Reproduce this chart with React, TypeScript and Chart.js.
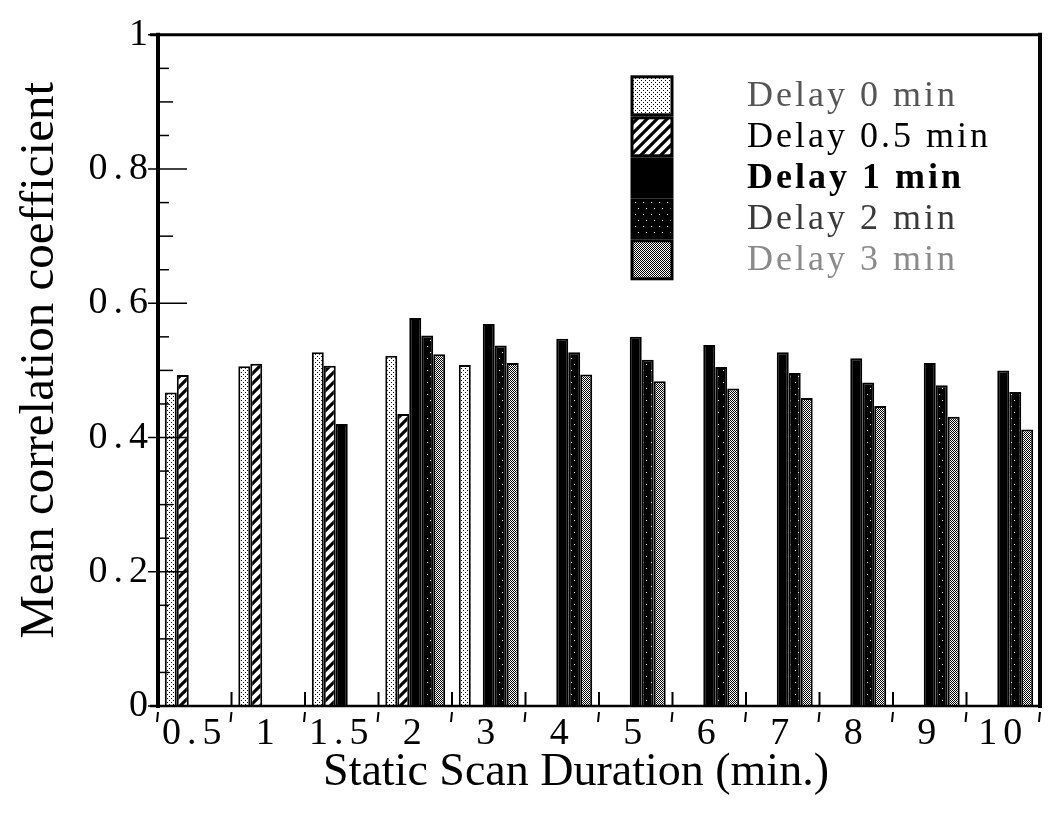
import React, { useEffect, useRef } from "react";
import { Chart, registerables } from "chart.js";

Chart.register(...registerables);

const categories = ["0.5", "1", "1.5", "2", "3", "4", "5", "6", "7", "8", "9", "10"];
const delay0 = [0.467, 0.506, 0.527, 0.522, 0.508, null, null, null, null, null, null, null];
const delay05 = [0.493, 0.51, 0.507, 0.435, null, null, null, null, null, null, null, null];
const delay1 = [null, null, 0.42, 0.578, 0.569, 0.547, 0.55, 0.538, 0.527, 0.518, 0.511, 0.5];
const delay2 = [null, null, null, 0.552, 0.537, 0.527, 0.516, 0.505, 0.496, 0.482, 0.478, 0.468];
const delay3 = [null, null, null, 0.524, 0.511, 0.494, 0.484, 0.473, 0.459, 0.447, 0.431, 0.412];
const seriesNames = ["Delay 0 min", "Delay 0.5 min", "Delay 1 min", "Delay 2 min", "Delay 3 min"];
const yTickLabels = ["0", "0.2", "0.4", "0.6", "0.8", "1"];
const xTitle = "Static Scan Duration (min.)";
const yTitle = "Mean correlation coefficient";

const FONT = "'Liberation Serif', 'Times New Roman', serif";

function makePattern(kind: string): CanvasPattern | string {
  const c = document.createElement("canvas");
  const g = c.getContext("2d")!;
  if (kind === "solid") return "#000";
  if (kind === "dots") {
    c.width = 4; c.height = 4;
    g.fillStyle = "#fff"; g.fillRect(0, 0, 4, 4);
    g.fillStyle = "#000";
    g.fillRect(1, 0, 1, 1);
    g.fillRect(3, 2, 1, 1);
  } else if (kind === "hatch") {
    c.width = 10; c.height = 10;
    g.fillStyle = "#fff"; g.fillRect(0, 0, 10, 10);
    g.strokeStyle = "#000"; g.lineWidth = 3.2;
    g.beginPath();
    g.moveTo(-2, 2); g.lineTo(2, -2);
    g.moveTo(0, 10); g.lineTo(10, 0);
    g.moveTo(8, 12); g.lineTo(12, 8);
    g.stroke();
  } else if (kind === "darkdots") {
    c.width = 8; c.height = 12;
    g.fillStyle = "#000"; g.fillRect(0, 0, 8, 12);
    g.fillStyle = "#fff";
    g.fillRect(3, 2, 1, 1);
    g.fillRect(6, 8, 1, 1);
  } else if (kind === "stipple") {
    c.width = 2; c.height = 2;
    g.fillStyle = "#fff"; g.fillRect(0, 0, 2, 2);
    g.fillStyle = "#000";
    g.fillRect(0, 0, 1, 1);
    g.fillRect(1, 1, 1, 1);
  }
  return g.createPattern(c, "repeat")!;
}

const patternKinds = ["dots", "hatch", "solid", "darkdots", "stipple"];
const legendColors = ["#555", "#000", "#000", "#3a3a3a", "#8a8a8a"];
const legendWeights = ["normal", "normal", "bold", "normal", "normal"];

export default function App() {
  const ref = useRef<HTMLCanvasElement | null>(null);

  useEffect(() => {
    if (!ref.current) return;
    const fills = patternKinds.map(makePattern);
    const seriesData = [delay0, delay05, delay1, delay2, delay3];

    const framePlugin = {
      id: "frame",
      beforeDraw(chart: any) {
        chart.ctx.letterSpacing = "6px";
      },
      afterDraw(chart: any) {
        const ctx: CanvasRenderingContext2D = chart.ctx;
        const { left, right, top, bottom } = chart.chartArea;
        const ys = chart.scales.y;
        const xs = chart.scales.x;
        ctx.save();
        ctx.letterSpacing = "0px";
        ctx.strokeStyle = "#000";
        ctx.lineCap = "butt";
        // frame
        ctx.lineWidth = 4;
        ctx.beginPath(); ctx.moveTo(left, top - 2); ctx.lineTo(left, bottom + 2); ctx.stroke();
        ctx.beginPath(); ctx.moveTo(right, top - 2); ctx.lineTo(right, bottom + 2); ctx.stroke();
        ctx.lineWidth = 3;
        ctx.beginPath(); ctx.moveTo(left - 8, top); ctx.lineTo(right, top); ctx.stroke();
        ctx.lineWidth = 2.5;
        ctx.beginPath(); ctx.moveTo(left - 8, bottom); ctx.lineTo(right, bottom); ctx.stroke();
        // y ticks
        ctx.lineWidth = 1.5;
        for (let i = 0; i <= 20; i++) {
          const v = i * 0.05;
          const y = ys.getPixelForValue(v);
          ctx.beginPath();
          if (i % 4 === 0) {
            ctx.moveTo(left - 10, y); ctx.lineTo(left + 29, y);
          } else if (i % 2 === 0) {
            ctx.moveTo(left, y); ctx.lineTo(left + 15, y);
          } else {
            ctx.moveTo(left, y); ctx.lineTo(left + 11, y);
          }
          ctx.stroke();
        }
        // x boundary ticks
        const n = categories.length;
        const cw = (right - left) / n;
        ctx.lineWidth = 2;
        for (let i = 0; i <= n; i++) {
          const x = xs.getPixelForValue(0) - cw / 2 + i * cw;
          ctx.beginPath();
          ctx.moveTo(x, bottom - 14); ctx.lineTo(x, bottom);
          ctx.moveTo(x, bottom + 6); ctx.lineTo(x - 1, bottom + 16);
          ctx.stroke();
        }
        // titles
        ctx.fillStyle = "#000";
        ctx.font = `46px ${FONT}`;
        ctx.textAlign = "center";
        ctx.textBaseline = "middle";
        ctx.fillText(xTitle, (left + right) / 2 - 23, bottom + 67);
        ctx.save();
        ctx.translate(left - 118, (top + bottom) / 2 - 10);
        ctx.rotate(-Math.PI / 2);
        ctx.font = `49px ${FONT}`;
        ctx.fillText(yTitle, 0, 0);
        ctx.restore();
        // legend
        const bx = left + 474;
        const by = top + 42;
        const pitch = 41;
        for (let i = 0; i < seriesNames.length; i++) {
          const y0 = by + i * pitch;
          ctx.fillStyle = fills[i] as any;
          ctx.fillRect(bx, y0, 40, 38);
          ctx.lineWidth = 3;
          ctx.strokeStyle = "#000";
          ctx.strokeRect(bx, y0, 40, 38);
          ctx.letterSpacing = "3px";
          ctx.fillStyle = legendColors[i];
          ctx.font = `${legendWeights[i]} 36px ${FONT}`;
          ctx.textAlign = "left";
          ctx.textBaseline = "middle";
          ctx.fillText(seriesNames[i], left + 589, y0 + 20);
        }
        ctx.restore();
        ctx.letterSpacing = "6px";
      },
    };

    const chart = new Chart(ref.current, {
      type: "bar",
      data: {
        labels: categories,
        datasets: seriesData.map((d, i) => ({
          label: seriesNames[i],
          data: d,
          backgroundColor: fills[i] as any,
          borderColor: "#000",
          borderWidth: 2,
          borderSkipped: "bottom",
          categoryPercentage: 0.815,
          barPercentage: 1.0,
        })),
      },
      options: {
        animation: false,
        responsive: true,
        maintainAspectRatio: false,
        layout: { padding: { top: 22, right: 2, left: 0, bottom: 0 } },
        plugins: {
          legend: { display: false },
          tooltip: { enabled: false },
        },
        scales: {
          x: {
            offset: true,
            grid: { display: false, drawTicks: false },
            border: { display: false },
            ticks: {
              color: "#000",
              font: { family: FONT, size: 38 },
              padding: 5,
              maxRotation: 0,
              autoSkip: false,
            },
            afterFit: (s: any) => { s.height = 103; },
          },
          y: {
            min: 0,
            max: 1,
            grid: { display: false, drawTicks: false },
            border: { display: false },
            ticks: {
              stepSize: 0.2,
              color: "#000",
              font: { family: FONT, size: 38 },
              padding: 4,
              callback: (_v: any, idx: number) => yTickLabels[idx],
            },
            afterFit: (s: any) => { s.width = 150; },
          },
        },
      },
      plugins: [framePlugin],
    });
    return () => chart.destroy();
  }, []);

  return (
    <div style={{ width: 1034, height: 801, position: "relative" }}>
      <canvas ref={ref} />
    </div>
  );
}
